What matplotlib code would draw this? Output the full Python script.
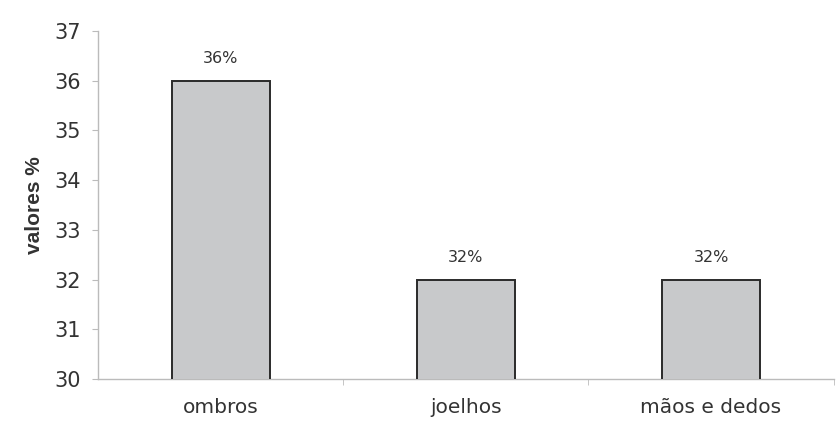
import matplotlib.pyplot as plt
from matplotlib.ticker import FixedLocator

categories = ["ombros", "joelhos", "mãos e dedos"]
values = [36, 32, 32]
labels = ["36%", "32%", "32%"]
y_ticks = [30, 31, 32, 33, 34, 35, 36, 37]

plt.rcParams["font.family"] = ["DejaVu Sans"]

fig = plt.figure(figsize=(8.37, 4.22), dpi=100)
ax = fig.add_axes([0.117, 0.102, 0.879, 0.8245])

x = range(len(categories))
bars = ax.bar(x, values, width=0.40, color="#c8c9cb", edgecolor="#2a2a2a", linewidth=1.4, zorder=3)

for bar, text in zip(bars, labels):
    ax.annotate(text, (bar.get_x() + bar.get_width() / 2, bar.get_height()),
                xytext=(0, 16), textcoords="offset points",
                ha="center", va="center", fontsize=11.5, color="#333333")

ax.set_xlim(-0.5, len(categories) - 0.5)
ax.set_ylim(30, 37)
ax.set_yticks(y_ticks)
ax.set_xticks(list(x))
ax.set_xticklabels(categories, fontsize=14.5, color="#333333")
ax.xaxis.set_minor_locator(FixedLocator([0.5, 1.5, 2.5]))
ax.tick_params(axis="x", which="major", length=0, pad=14)
ax.tick_params(axis="x", which="minor", length=4, color="#bbbbbb")
ax.tick_params(axis="y", length=4, color="#bbbbbb", labelsize=15, labelcolor="#333333", pad=8)

for side in ["top", "right"]:
    ax.spines[side].set_visible(False)
for side in ["left", "bottom"]:
    ax.spines[side].set_color("#bbbbbb")
    ax.spines[side].set_linewidth(1.0)

ax.set_ylabel("valores %", fontsize=15, fontweight="bold", color="#333333", labelpad=8,
              family=["Liberation Sans", "DejaVu Sans"])

fig.savefig("out.png", dpi=100, facecolor="white")
